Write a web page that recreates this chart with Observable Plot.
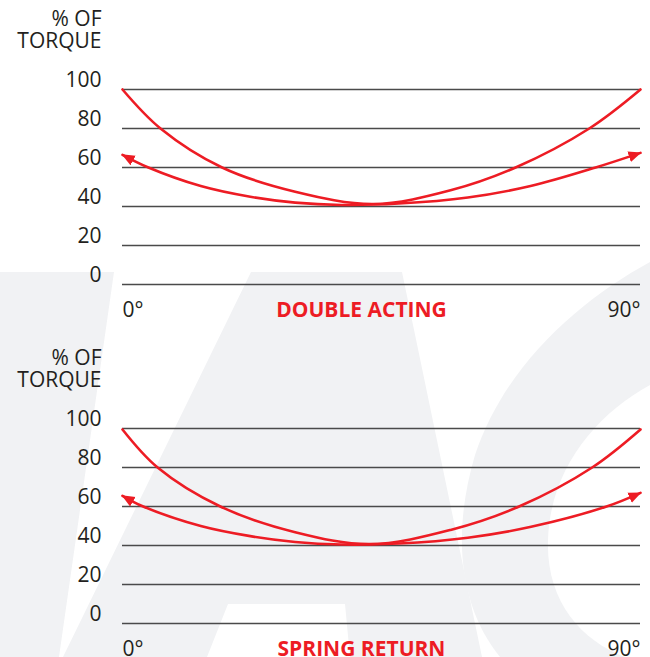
<!DOCTYPE html>
<html><head><meta charset="utf-8">
<script src="https://cdn.jsdelivr.net/npm/d3@7"></script>
<script src="https://cdn.jsdelivr.net/npm/@observablehq/plot@0.6"></script>
<style>
html,body{margin:0;padding:0;background:#fff;}
#wrap{position:relative;width:650px;height:657px;overflow:hidden;font-family:"Open Sans",sans-serif;}
.chart{position:absolute;left:0;}
#bg{position:absolute;left:0;top:0;}
</style></head><body><div id="wrap">
<svg id="bg" width="650" height="657" viewBox="0 0 650 657">
  <g fill="#f1f2f4">
    <path d="M0,272 L114,272 L59,657 L0,657 Z"/>
    <path d="M251,272 L402,272 L482,657 L350,657 L345,604 L228,604 L207,657 L63,657 Z"/>
    <path d="M650,262 C580,300 505,365 475,455 C450,540 462,610 500,657 L650,657 Z"/>
  </g>
  <path fill="#fff" d="M650,385 C595,415 550,470 548,540 C546,600 580,640 625,657 L650,657 Z"/>
</svg>
</div>
<script>
// ---- data ----
const yTicks = [0, 20, 40, 60, 80, 100];
const xTickValues = [0, 90];
const xTickLabels = ["0°", "90°"];
const yLabel = "% OF\nTORQUE";
const titles = ["DOUBLE ACTING", "SPRING RETURN"];

// Double acting: curve without arrows
const daAAngle = [0, 6.6, 17.3, 30, 43.6, 57, 68.3, 81.1, 90];
const daAValue = [100, 80, 60, 47.6, 41.3, 48.3, 60, 80, 100];
// Double acting: curve with arrows
const daBAngle = [0, 4.5, 13.6, 22.2, 30, 38, 48, 60, 70.9, 82.2, 90];
const daBValue = [66.5, 60, 50.5, 45, 42, 40.8, 41.5, 44.6, 50.5, 60, 67.5];

// Spring return: curve without arrows
const srAAngle = [0, 6.1, 17, 30, 43, 57, 68.9, 81.6, 90];
const srAValue = [99.5, 80, 60, 46.8, 40.7, 48, 60, 80, 99.5];
// Spring return: curve with arrows
const srBAngle = [0, 3.6, 13.6, 22.2, 30, 38, 48, 60, 71, 84.1, 90];
const srBValue = [65.5, 60, 50, 44.8, 41.8, 40.5, 41, 44, 49.6, 60, 67];

// ---- styles ----
const RED = "#ed1c24";
const INK = "#231f20";

function arrowMarker(orient) {
  return (color) => {
    const ns = "http://www.w3.org/2000/svg";
    const m = document.createElementNS(ns, "marker");
    m.setAttribute("viewBox", "0 -6 13 12");
    m.setAttribute("markerWidth", 13);
    m.setAttribute("markerHeight", 12);
    m.setAttribute("markerUnits", "userSpaceOnUse");
    m.setAttribute("refX", 12);
    m.setAttribute("refY", 0);
    m.setAttribute("orient", orient);
    const p = document.createElementNS(ns, "path");
    p.setAttribute("d", "M0,-5.5L13,0L0,5.5Z");
    p.setAttribute("fill", color);
    p.setAttribute("stroke", "none");
    m.appendChild(p);
    return m;
  };
}

function makeChart(title, aAng, aVal, bAng, bVal) {
  const A = aAng.map((x, i) => ({x, y: aVal[i]}));
  const B = bAng.map((x, i) => ({x, y: bVal[i]}));
  const xt = xTickValues.map((x, i) => ({x, label: xTickLabels[i]}));
  return Plot.plot({
    width: 650, height: 339,
    marginLeft: 122, marginRight: 10, marginTop: 89, marginBottom: 55,
    x: {domain: [0, 90], axis: null},
    y: {domain: [0, 100], axis: null},
    style: {fontFamily: "'Open Sans', sans-serif", background: "transparent", overflow: "visible", color: INK},
    marks: [
      Plot.ruleY(yTicks, {stroke: "#4a4a4a", strokeWidth: 1.6}),
      Plot.axisY({ticks: yTicks, tickSize: 0, tickPadding: 21, dy: -9, fontSize: 21, fill: INK, label: null}),
      Plot.line(A, {x: "x", y: "y", curve: "catmull-rom", stroke: RED, strokeWidth: 2.6}),
      Plot.line(B, {x: "x", y: "y", curve: "catmull-rom", stroke: RED, strokeWidth: 2.6,
        markerStart: arrowMarker("auto-start-reverse"), markerEnd: arrowMarker("auto")}),
      Plot.text([yLabel], {frameAnchor: "top-left", dx: -21, dy: -79.5, textAnchor: "end", lineAnchor: "top",
        fontSize: 21, lineHeight: 22 / 21, fill: INK}),
      Plot.text(xt.slice(0, 1), {x: "x", text: "label", frameAnchor: "bottom", textAnchor: "start", dy: 32, fontSize: 21, fill: INK}),
      Plot.text(xt.slice(1), {x: "x", text: "label", frameAnchor: "bottom", textAnchor: "end", dy: 32, fontSize: 21, fill: INK}),
      Plot.text([title], {frameAnchor: "bottom", dx: -20, dy: 32, fontSize: 21, fontWeight: "bold", fill: RED})
    ]
  });
}

const wrap = document.getElementById("wrap");
const c1 = makeChart(titles[0], daAAngle, daAValue, daBAngle, daBValue);
c1.classList.add("chart"); c1.style.top = "0px";
const c2 = makeChart(titles[1], srAAngle, srAValue, srBAngle, srBValue);
c2.classList.add("chart"); c2.style.top = "339px";
wrap.appendChild(c1);
wrap.appendChild(c2);
</script></body></html>
